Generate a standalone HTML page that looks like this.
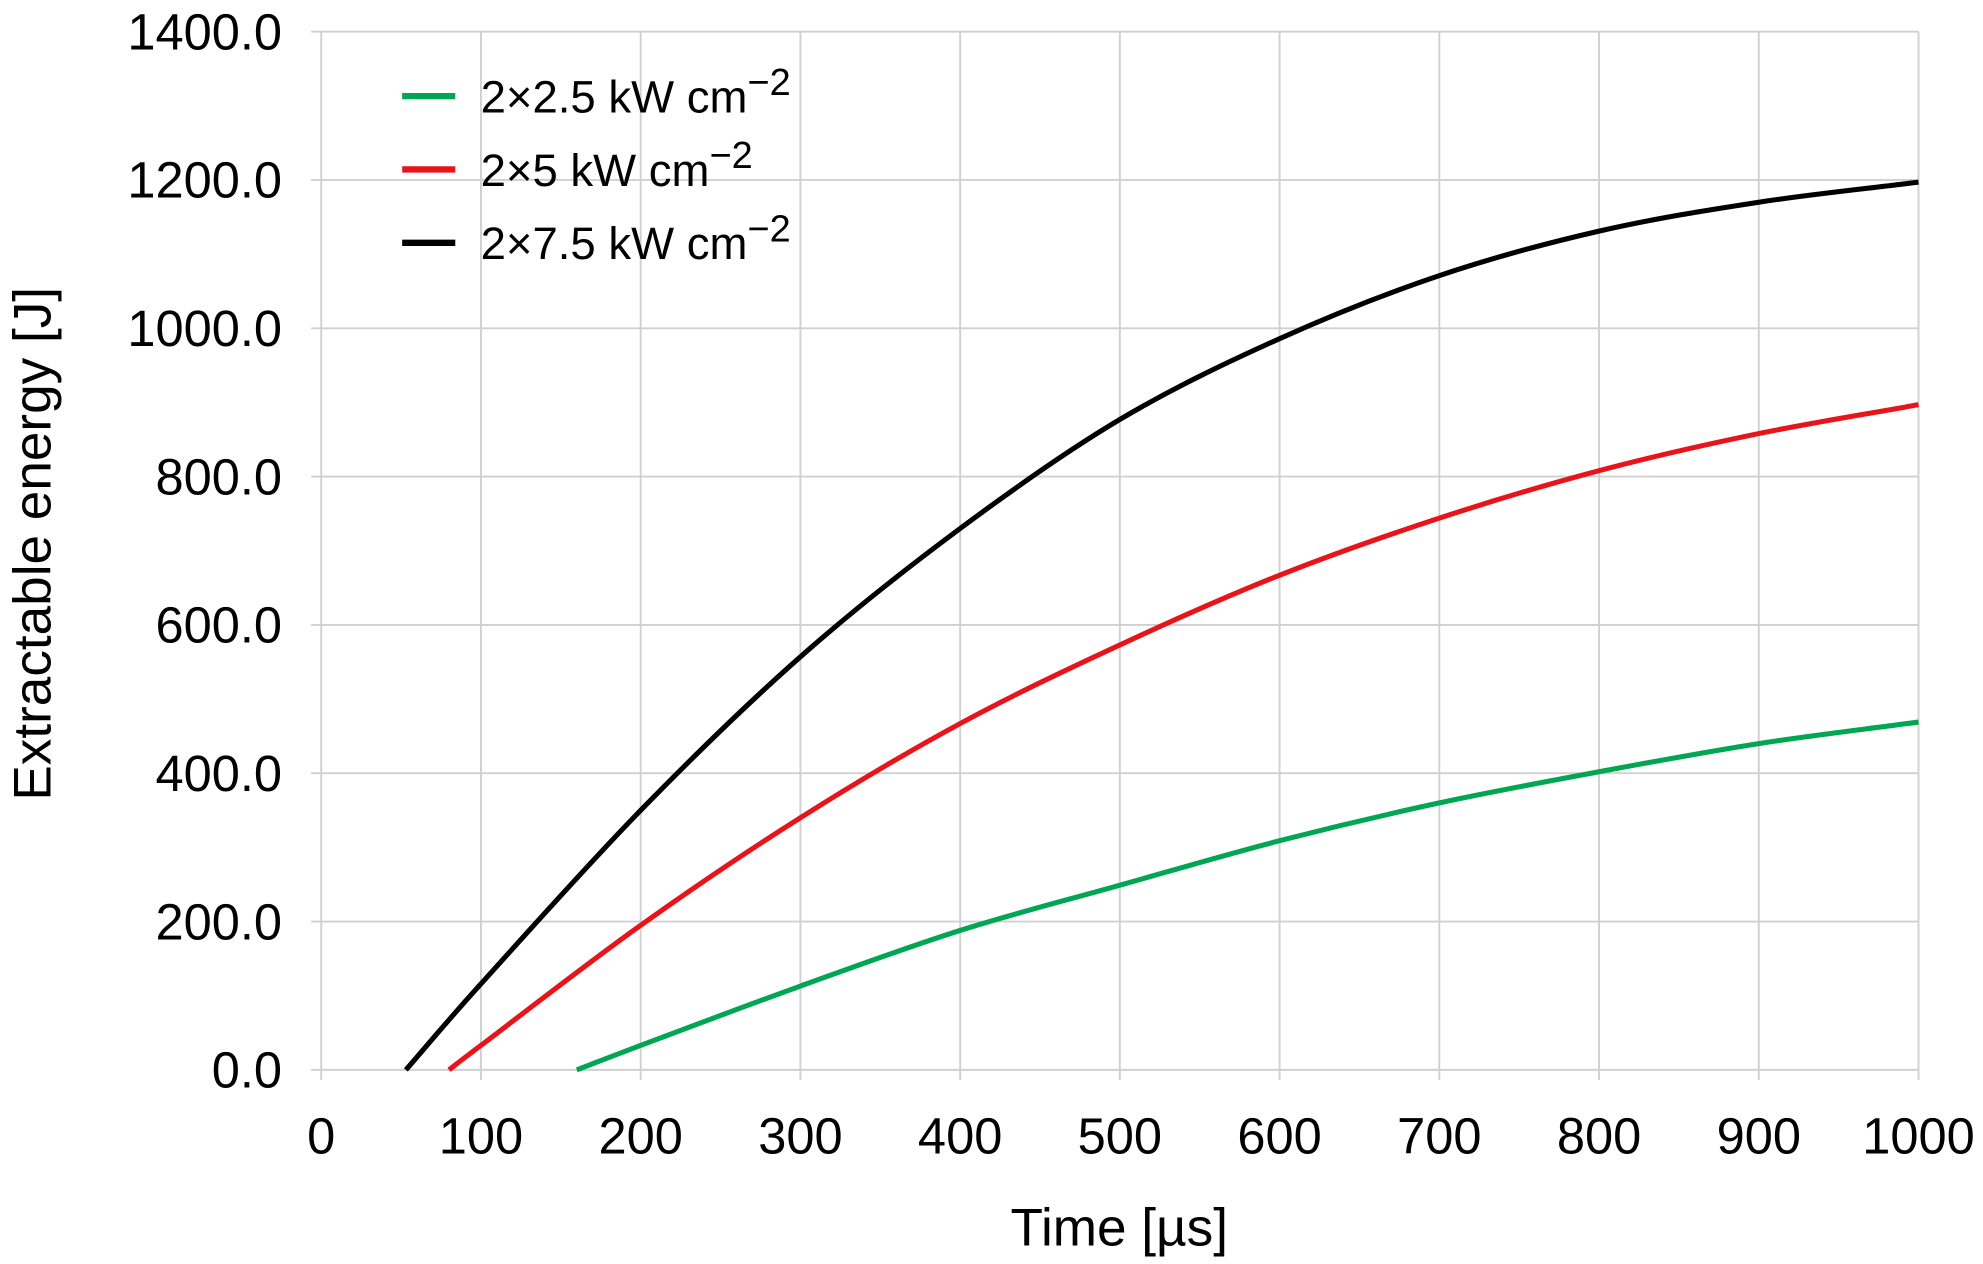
<!DOCTYPE html>
<html><head><meta charset="utf-8"><style>
html,body{margin:0;padding:0;background:#fff;}
svg{display:block;font-family:"Liberation Sans",Arial,sans-serif;}
</style></head><body>
<svg id="chart" width="1983" height="1264" viewBox="0 0 1568 999.5" preserveAspectRatio="none" xmlns="http://www.w3.org/2000/svg">
<g id="grid"></g>
<g id="ticks"></g>
<g id="series"></g>
<text x="885" y="985" font-size="42" text-anchor="middle">Time [µs]</text>
<text transform="translate(40,430) rotate(-90)" font-size="42" text-anchor="middle">Extractable energy [J]</text>
<g font-size="36">
<line x1="318" y1="76" x2="360" y2="76" stroke="#00a651" stroke-width="5"/>
<text x="380" y="89">2×2.5 kW cm<tspan dy="-14" font-size="30">−2</tspan></text>
<line x1="318" y1="134" x2="360" y2="134" stroke="#e8141b" stroke-width="5"/>
<text x="380" y="147">2×5 kW cm<tspan dy="-14" font-size="30">−2</tspan></text>
<line x1="318" y1="192" x2="360" y2="192" stroke="#000" stroke-width="5"/>
<text x="380" y="205">2×7.5 kW cm<tspan dy="-14" font-size="30">−2</tspan></text>
</g>
</svg>
<script>
const xTicks=[0,100,200,300,400,500,600,700,800,900,1000];
const yTicks=[0,200,400,600,800,1000,1200,1400];
const yTickLabels=["0.0","200.0","400.0","600.0","800.0","1000.0","1200.0","1400.0"];
const times=[100,200,300,400,500,600,700,800,900,1000];
const blackStart=53;
const blackVals=[116,350,557,730,877,986,1071,1131,1170,1197];
const redStart=80;
const redVals=[33,195,340,467,573,667,744,808,858,897];
const greenStart=160;
const greenVals=[33,113,188,249,309,360,402,440,469];
const greenTimes=[200,300,400,500,600,700,800,900,1000];
const NS="http://www.w3.org/2000/svg";
const X=v=>254+(v/1000)*(1517-254);
const Y=v=>846-(v/1400)*(846-25);
function mk(t,a,p){const e=document.createElementNS(NS,t);for(const k in a)e.setAttribute(k,a[k]);p.appendChild(e);return e;}
const grid=document.getElementById('grid'),ticks=document.getElementById('ticks'),series=document.getElementById('series');
xTicks.forEach(t=>{
 const l=mk('line',{x1:X(t),x2:X(t),y1:Y(1400),y2:Y(0)+8,stroke:'#d0d0d0','stroke-width':1.5},grid);
 
 
 const tx=mk('text',{x:X(t),y:912,'font-size':40,'text-anchor':'middle'},ticks);tx.textContent=t;
 
 
});
yTicks.forEach((t,i)=>{
 const l=mk('line',{x1:X(0)-8,x2:X(1000),y1:Y(t),y2:Y(t),stroke:'#d0d0d0','stroke-width':1.5},grid);
 
 
 const tx=mk('text',{x:223,y:Y(t)+14,'font-size':40,'text-anchor':'end'},ticks);tx.textContent=yTickLabels[i];
 
 
});
function path(pts){
 const n=pts.length;
 const first=[2*pts[0][0]-pts[1][0],2*pts[0][1]-pts[1][1]];
 const last=[2*pts[n-1][0]-pts[n-2][0],2*pts[n-1][1]-pts[n-2][1]];
 const q=[first].concat(pts,[last]);
 let d='M'+pts[0][0]+','+pts[0][1];
 for(let i=1;i<q.length-2;i++){
  const p0=q[i-1],p1=q[i],p2=q[i+1],p3=q[i+2];
  d+=' C'+(p1[0]+(p2[0]-p0[0])/6)+','+(p1[1]+(p2[1]-p0[1])/6)+' '+(p2[0]-(p3[0]-p1[0])/6)+','+(p2[1]-(p3[1]-p1[1])/6)+' '+p2[0]+','+p2[1];
 }
 return d;
}
function draw(start,ts,vals,color,name){
 const pts=[[X(start),Y(0)]].concat(ts.map((t,i)=>[X(t),Y(vals[i])]));
 const p=mk('path',{d:path(pts),fill:'none',stroke:color,'stroke-width':4},series);
 
 
}
draw(greenStart,greenTimes,greenVals,'#00a651','line-2x2.5');
draw(redStart,times,redVals,'#e8141b','line-2x5');
draw(blackStart,times,blackVals,'#000','line-2x7.5');
</script>
</body></html>
